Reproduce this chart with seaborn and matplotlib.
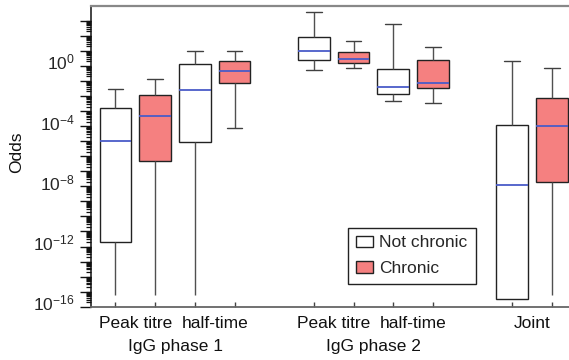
import numpy as np
import pandas as pd
import matplotlib
matplotlib.use("Agg")
import matplotlib.pyplot as plt
import matplotlib.transforms as mtransforms
from matplotlib.patches import Patch
from matplotlib.ticker import FixedLocator, FuncFormatter, NullFormatter
import seaborn as sns

# ---- data: five-number summaries of the odds for each box ----
statuses = ["Not chronic", "Chronic"]
measure_labels = ["Peak titre", "half-time", "Peak titre", "half-time", "Joint"]
measure_slots = [1.5, 3.5, 6.5, 8.5, 11.5]
group_labels = ["IgG phase 1", "IgG phase 2"]
group_slots = [2.5, 7.5]

box_slot = [1, 2, 3, 4, 6, 7, 8, 9, 11, 12]
box_status = ["Not chronic", "Chronic"] * 5

whisker_low = [6.3e-16, 6.3e-16, 6.3e-16, 7.8e-5, 0.54, 0.69, 4.7e-3, 3.4e-3, 3.2e-16, 6.3e-16]
quartile_1 = [2.1e-12, 5.0e-7, 9.1e-6, 6.9e-2, 2.3, 1.48, 1.35e-2, 3.2e-2, 3.2e-16, 1.86e-8]
median = [1.07e-5, 4.9e-4, 2.4e-2, 0.44, 10.2, 2.75, 4.0e-2, 7.6e-2, 1.3e-8, 1.07e-4]
quartile_3 = [1.66e-3, 1.23e-2, 1.26, 2.1, 79.0, 8.7, 0.62, 2.3, 1.17e-4, 7.8e-3]
whisker_high = [2.95e-2, 0.135, 9.8, 10.2, 3800.0, 45.0, 630.0, 19.0, 2.2, 0.76]

rows = []
for i, pos in enumerate(box_slot):
    for v in (whisker_low[i], quartile_1[i], median[i], quartile_3[i], whisker_high[i]):
        rows.append({"slot": pos, "status": box_status[i], "odds": v})
df = pd.DataFrame(rows)

# ---- style ----
sns.set_style("white")
plt.rcParams["font.family"] = ["Liberation Sans", "DejaVu Sans"]
plt.rcParams["mathtext.fontset"] = "custom"
plt.rcParams["mathtext.rm"] = "Liberation Sans"
plt.rcParams["mathtext.it"] = "Liberation Sans:italic"
plt.rcParams["mathtext.bf"] = "Liberation Sans:bold"

chronic_red = "#f58080"
palette = {"Not chronic": "white", "Chronic": chronic_red}
edge = "#222222"

fig = plt.figure(figsize=(5.69, 3.60), dpi=100)
ax = fig.add_axes([90.5 / 569, 1 - 306.7 / 360, 1 - 90.5 / 569, (306.7 - 5.7) / 360])

sns.boxplot(
    data=df, x="slot", y="odds", hue="status", hue_order=statuses,
    palette=palette, saturation=1, native_scale=True, dodge=False, width=0.8,
    whis=(0, 100), log_scale=(False, True), linecolor=edge, linewidth=1.0,
    medianprops=dict(color="#4a5cc8", linewidth=1.3),
    whiskerprops=dict(color="#505050", linewidth=1.0),
    capprops=dict(color="#404040", linewidth=1.0),
    legend=False, ax=ax,
)

# whiskers that run to the bottom of the scale carry no cap
for line in ax.lines:
    y = np.asarray(line.get_ydata(), dtype=float)
    if y.size == 2 and y[0] == y[1] and y[0] < 1e-15:
        line.set_visible(False)

ax.set_xlim(0.37, 12.43)
ax.set_ylim(1e-16, 1e4)

# log axis: a tick every decade, labels every fourth decade
ax.yaxis.set_major_locator(FixedLocator([10.0 ** k for k in range(-16, 4)]))
ax.yaxis.set_minor_locator(FixedLocator([m * 10.0 ** k for k in range(-16, 3) for m in range(2, 10)]))


def decade_label(val, pos):
    k = int(round(np.log10(val)))
    return r"$10^{%d}$" % k if k % 4 == 0 and k <= 0 else ""


ax.yaxis.set_major_formatter(FuncFormatter(decade_label))
ax.yaxis.set_minor_formatter(NullFormatter())
ax.tick_params(axis="y", which="major", direction="out", length=7.9, width=1.0,
               color="#111111", labelsize=12.5, pad=3.5, left=True)
ax.tick_params(axis="y", which="minor", direction="out", length=3.6, width=0.9,
               color="#111111", left=True)

# exponent labels sit slightly above their ticks
lift = mtransforms.ScaledTranslation(0, 4.5 / 100, fig.dpi_scale_trans)
for tick in ax.yaxis.get_major_ticks():
    tick.label1.set_transform(tick.label1.get_transform() + lift)

ax.set_xticks(box_slot)
ax.set_xticklabels([])
ax.tick_params(axis="x", which="major", direction="in", length=3.6, width=1.0,
               color="#444444", bottom=True)
ax.tick_params(axis="x", which="minor", bottom=False)
ax.set_xlabel("")
ax.set_ylabel("")

ax.spines["left"].set_color("#111111")
ax.spines["left"].set_linewidth(1.1)
ax.spines["bottom"].set_color("#666666")
ax.spines["bottom"].set_linewidth(1.3)
ax.spines["top"].set_color("#888888")
ax.spines["top"].set_linewidth(1.6)
ax.spines["right"].set_visible(False)

# category labels under the axis
trans = mtransforms.blended_transform_factory(ax.transData, ax.transAxes)
for x, lab in zip(measure_slots, measure_labels):
    ax.text(x, -0.0718, lab, transform=trans, ha="center", va="baseline",
            fontsize=12.5, color="#111111")
for x, lab in zip(group_slots, group_labels):
    ax.text(x, -0.147, lab, transform=trans, ha="center", va="baseline",
            fontsize=12.5, color="#111111")

fig.text(17 / 569, 1 - 152 / 360, "Odds", rotation=90, ha="center", va="center",
         fontsize=12.5, color="#111111")

handles = [Patch(facecolor=palette[s], edgecolor=edge, linewidth=1.0) for s in statuses]
leg = ax.legend(handles, statuses, loc="upper left", bbox_to_anchor=(0.5375, 0.2625),
                frameon=True, fancybox=False, framealpha=1, edgecolor=edge,
                fontsize=12.5, handlelength=1.02, handleheight=0.67,
                handletextpad=0.36, borderpad=0.45, labelspacing=0.6,
                borderaxespad=0)
leg.get_frame().set_linewidth(1.0)

fig.savefig("out.png", dpi=100)
